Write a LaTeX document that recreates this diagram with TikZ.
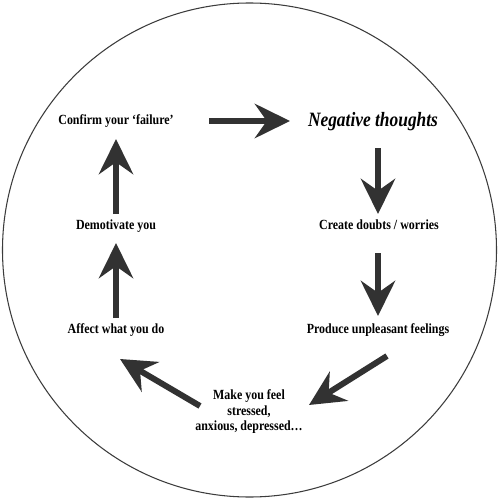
\documentclass[tikz,border=0pt]{standalone}
\usepackage{fontspec}
\usepackage{graphicx}
\setmainfont{Liberation Serif}
\usetikzlibrary{arrows.meta}
\definecolor{arrowgray}{RGB}{50,50,50}
\definecolor{ringgray}{RGB}{60,60,60}
\newcommand{\vstretch}[1]{\scalebox{1}[1.17]{#1}}
\tikzset{
  lbl/.style={font=\fontsize{6.8}{8.2}\selectfont\bfseries, inner sep=0pt, align=center},
  neg/.style={font=\fontsize{9.9}{12}\selectfont\bfseries\itshape, inner sep=0pt},
  blk/.style={draw=arrowgray, line width=3.4pt, -{Stealth[length=20pt,width=19.5pt,inset=6.8pt]}}
}
\begin{document}
\begin{tikzpicture}[x=0.02cm,y=-0.02cm]
\useasboundingbox (0,0) rectangle (500,500);
\fill[white] (0,0) rectangle (500,500);
\draw[ringgray, line width=0.6pt] (249.5,250) circle (247);
\node[lbl, anchor=base] (confirm) at (116,125) {\vstretch{Confirm your ‘failure’}};
\node[neg, anchor=base] (negative) at (373,127) {\vstretch{Negative thoughts}};
\node[lbl, anchor=base] (demot) at (116,229) {\vstretch{Demotivate you}};
\node[lbl, anchor=base] (create) at (379,229) {\vstretch{Create doubts / worries}};
\node[lbl, anchor=base] (affect) at (116,333) {\vstretch{Affect what you do}};
\node[lbl, anchor=base] (produce) at (378,333) {\vstretch{Produce unpleasant feelings}};
\node[lbl] (make) at (249,412) {\vstretch{\begin{tabular}{@{}c@{}}Make you feel\\[-0.6pt]stressed,\\[-0.6pt]anxious, depressed…\end{tabular}}};
\coordinate (a1s) at (209,121); \coordinate (a1e) at (290,121);
\coordinate (a2s) at (378,148); \coordinate (a2e) at (378,214);
\coordinate (a3s) at (378,253); \coordinate (a3e) at (378,316);
\coordinate (a4s) at (387,356); \coordinate (a4e) at (309,405);
\coordinate (a5s) at (200,406); \coordinate (a5e) at (120,359);
\coordinate (a6s) at (116,318); \coordinate (a6e) at (116,243);
\coordinate (a7s) at (116,214); \coordinate (a7e) at (116,139);
\draw[blk] (a1s) -- (a1e);
\draw[blk] (a2s) -- (a2e);
\draw[blk] (a3s) -- (a3e);
\draw[blk] (a4s) -- (a4e);
\draw[blk] (a5s) -- (a5e);
\draw[blk] (a6s) -- (a6e);
\draw[blk] (a7s) -- (a7e);
\end{tikzpicture}
\end{document}
